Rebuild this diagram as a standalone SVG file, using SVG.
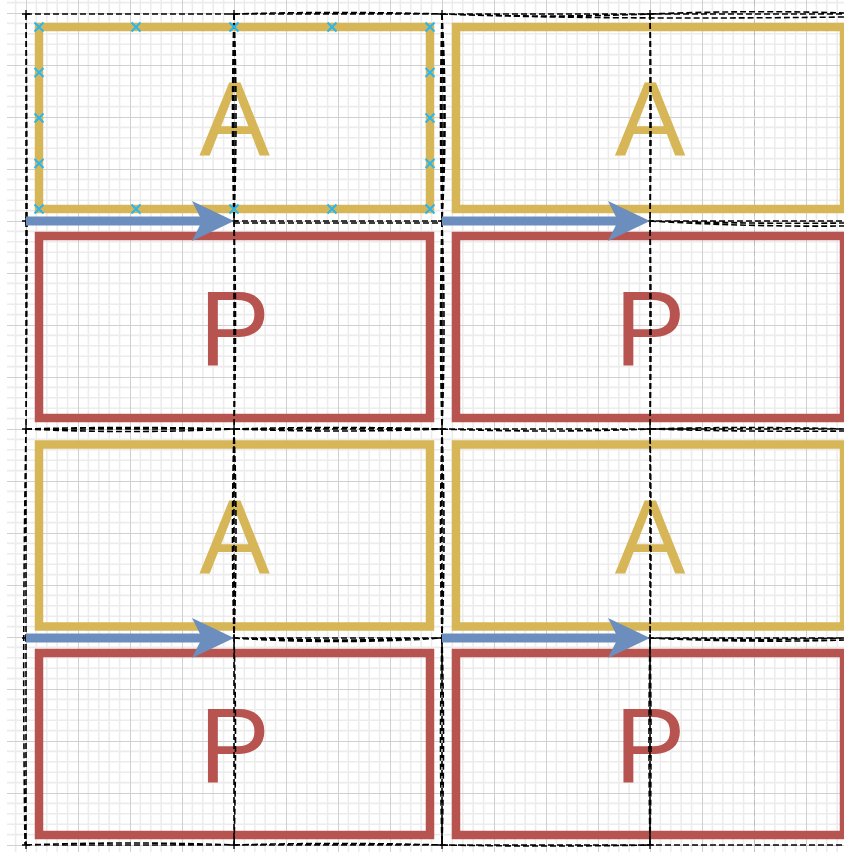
<svg xmlns="http://www.w3.org/2000/svg" width="844" height="852" viewBox="0 0 844 852">
<style>
.a{fill:none;stroke:#d6b656;stroke-width:8.5}
.p{fill:none;stroke:#b85450;stroke-width:8.5}
.ta{fill:#d6b656;font-family:"Liberation Sans",Arial,sans-serif;font-size:106px;text-anchor:middle}
.tp{fill:#b85450;font-family:"Liberation Sans",Arial,sans-serif;font-size:106px;text-anchor:middle}
.d{fill:none;stroke:#000;stroke-width:1.6;stroke-dasharray:6 3}
.x{fill:none;stroke:#000;stroke-width:1.3}
.b{fill:none;stroke:#6c8ebf;stroke-width:9}
.cp{fill:none;stroke:#29b6f2;stroke-width:2}
</style>
<defs>
<pattern id="grid" patternUnits="userSpaceOnUse" x="26" y="13" width="52" height="52">
<path d="M10.4 0V52M20.8 0V52M31.2 0V52M41.6 0V52M0 10.4H52M0 20.8H52M0 31.2H52M0 41.6H52" stroke="#ececec" stroke-width="1.6" fill="none"/>
<path d="M0.5 0V52M0 0.5H52" stroke="#d0d0d0" stroke-width="1" fill="none"/>
</pattern>
<marker id="arr" markerUnits="userSpaceOnUse" markerWidth="44" markerHeight="42" refX="18" refY="20" orient="auto" viewBox="0 0 44 42">
<path d="M0 0L42 20L0 40L10 20Z" fill="#6c8ebf"/>
</marker>
<path id="xm" d="M-4.5 -4.5L4.5 4.5M-4.5 4.5L4.5 -4.5"/>
</defs>
<rect width="844" height="852" fill="#fff"/>
<rect x="7" y="0" width="837" height="852" fill="url(#grid)"/>
<path d="M754.5 0V852" stroke="#bdbdbd" stroke-width="1" stroke-dasharray="6 4" fill="none"/>

<g id="node-a1"><rect class="a" x="39" y="27" width="391" height="182"/><text class="ta" x="234.5" y="155">A</text></g>
<g id="node-p1"><rect class="p" x="39" y="236" width="391" height="182"/><text class="tp" x="234.5" y="365">P</text></g>
<g id="node-a2"><rect class="a" x="456" y="27" width="388" height="182"/><text class="ta" x="650" y="155">A</text></g>
<g id="node-p2"><rect class="p" x="456" y="236" width="388" height="182"/><text class="tp" x="650" y="365">P</text></g>
<g id="node-a3"><rect class="a" x="39" y="444.5" width="391" height="182"/><text class="ta" x="234.5" y="572.5">A</text></g>
<g id="node-p3"><rect class="p" x="39" y="653" width="391" height="182"/><text class="tp" x="234.5" y="782">P</text></g>
<g id="node-a4"><rect class="a" x="456" y="444.5" width="388" height="182"/><text class="ta" x="650" y="572.5">A</text></g>
<g id="node-p4"><rect class="p" x="456" y="653" width="388" height="182"/><text class="tp" x="650" y="782">P</text></g>

<g id="connectors">
<path class="d" d="M26 14L26 429Q22 640 25 845M26 14Q28 220 26 429L26 845"/>
<path class="d" d="M234 14V845M234 14Q238 117 234 221M234 14Q231 117 234 221M234 221Q237 325 234 429M234 429Q238 533 234 638M234 429Q231 533 234 638M234 638Q237 740 234 845"/>
<path class="d" d="M442 14V845M442 14Q446 117 442 221M442 14Q439 117 442 221M442 14Q448 117 442 221M442 221Q446 325 442 429M442 221Q439 325 442 429M442 429Q446 533 442 638M442 429Q439 533 442 638M442 638Q445 740 442 845M442 638Q439 740 442 845"/>
<path class="d" d="M650 14V845M650 14Q652 117 650 221M650 221Q652 325 650 429M650 429Q652 533 650 638M650 638Q652 740 650 845M650 638Q648 740 650 845"/>
<path class="d" d="M26 14H844M234 14Q338 11 442 14M442 14Q546 18 650 14M650 14Q750 10 844 13M442 14Q600 20 844 17"/>
<path class="d" d="M26 221H844M234 223H442M650 221Q750 227 844 226M650 221Q750 224 844 223"/>
<path class="d" d="M26 429H844M26 429Q130 434 234 429M26 429Q130 426 234 429M234 429Q338 426 442 429M234 429Q338 433 442 429M442 429Q546 433 650 429M650 429Q750 426 844 429M650 429Q750 432 844 431"/>
<path class="d" d="M26 638H844M234 638Q338 645 442 638M234 638Q338 642 442 638M650 638Q750 643 844 640M650 638Q750 641 844 638"/>
<path class="d" d="M26 845H844M26 845Q130 841 234 845M234 845Q338 842 442 845M442 845Q546 847 650 845"/>
<path class="x" d="M26 10V18M22 14H30M234 10V18M230 14H238M442 10V18M438 14H446M650 10V18M646 14H654M26 217V225M22 221H30M234 217V225M230 221H238M442 217V225M438 221H446M650 217V225M646 221H654M26 425V433M22 429H30M234 425V433M230 429H238M442 425V433M438 429H446M650 425V433M646 429H654M26 634V642M22 638H30M234 634V642M230 638H238M442 634V642M438 638H446M650 634V642M646 638H654M26 841V849M22 845H30M234 841V849M230 845H238M442 841V849M438 845H446M650 841V849M646 845H654"/>
<path class="b" d="M26 221H210" marker-end="url(#arr)"/>
<path class="b" d="M442 221H626" marker-end="url(#arr)"/>
<path class="b" d="M26 638H210" marker-end="url(#arr)"/>
<path class="b" d="M442 638H626" marker-end="url(#arr)"/>
</g>

<g id="connection-points" class="cp">
<use href="#xm" x="39" y="27"/><use href="#xm" x="136" y="27"/><use href="#xm" x="234" y="27"/><use href="#xm" x="332" y="27"/><use href="#xm" x="430" y="27"/>
<use href="#xm" x="39" y="209"/><use href="#xm" x="136" y="209"/><use href="#xm" x="234" y="209"/><use href="#xm" x="332" y="209"/><use href="#xm" x="430" y="209"/>
<use href="#xm" x="39" y="72.5"/><use href="#xm" x="39" y="118"/><use href="#xm" x="39" y="163.5"/>
<use href="#xm" x="430" y="72.5"/><use href="#xm" x="430" y="118"/><use href="#xm" x="430" y="163.5"/>
</g>
</svg>
